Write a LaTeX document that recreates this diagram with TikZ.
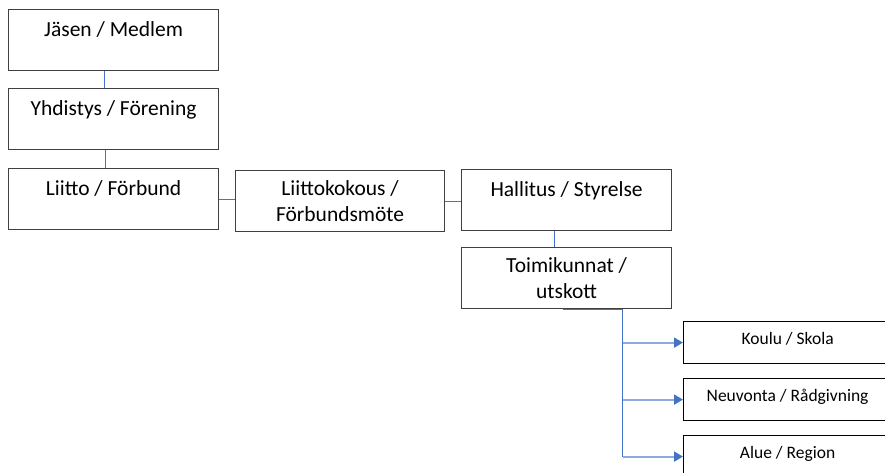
\documentclass[tikz,border=0pt]{standalone}
\usepackage{fontspec}
\setmainfont{Carlito}
\usetikzlibrary{arrows.meta}
\definecolor{lineblue}{HTML}{4472C4}
\definecolor{lightblue}{HTML}{8FAADC}
\definecolor{boxline}{HTML}{404040}
\tikzset{
  topbox/.style={draw=boxline, line width=1.2pt, fill=white, anchor=north west,
    minimum width=210pt, inner xsep=0pt, inner ysep=0pt, align=center,
    text height=27pt, text depth=34pt, font=\fontsize{21.5}{26}\selectfont},
  midbox/.style={draw=boxline, line width=1.2pt, fill=white, anchor=north west,
    minimum width=210pt, minimum height=61pt, inner sep=0pt, align=center,
    font=\fontsize{21.5}{26}\selectfont},
  smallbox/.style={draw=black, line width=1.2pt, fill=white, anchor=north west,
    minimum width=208pt, inner xsep=0pt, inner ysep=0pt, align=center,
    text height=23pt, text depth=19pt, font=\fontsize{17.5}{21}\selectfont},
  conn/.style={draw=lineblue, line width=1.2pt},
  branch/.style={draw=lightblue, line width=1.8pt,
    -{Triangle[length=9pt,width=10pt,fill=lineblue,color=lineblue]}},
}
\begin{document}
\begin{tikzpicture}[x=1pt,y=-1pt]
\useasboundingbox (0,0) rectangle (885,472);
\clip (0,0) rectangle (885,472);
\node[topbox] (jasen) at (8,9) {Jäsen / Medlem};
\node[topbox] (yhd) at (8,88) {Yhdistys / Förening};
\node[topbox] (liitto) at (8,168) {Liitto / Förbund};
\node[midbox, minimum width=209pt] (kokous) at (235,170) {Liittokokous /\\Förbundsmöte};
\node[topbox] (hall) at (461,169) {Hallitus / Styrelse};
\node[midbox] (toim) at (461,247) {Toimikunnat /\\utskott};
\node[smallbox] (koulu) at (683,321) {Koulu / Skola};
\node[smallbox] (neuv) at (683,378) {Neuvonta / Rådgivning};
\node[smallbox] (alue) at (683,435) {Alue / Region};
\draw[conn] ([xshift=-9pt]jasen.south) -- ([xshift=-9pt]yhd.north);
\draw[conn] ([xshift=-8pt]yhd.south) -- ([xshift=-8pt]liitto.north);
\draw[conn] (liitto.east) -- (liitto.east -| kokous.west);
\draw[conn] (kokous.east) -- (hall.west |- kokous.east);
\draw[conn] ([xshift=-12pt]hall.south) -- ([xshift=-12pt]toim.north);
\coordinate (fork) at ([xshift=56pt]toim.south);
\draw[conn] ([xshift=-4pt]toim.south) -- (fork) -- (fork |- alue.west);
\draw[branch] (fork |- koulu.west) -- (koulu.west);
\draw[branch] (fork |- neuv.west) -- (neuv.west);
\draw[branch] (fork |- alue.west) -- (alue.west);
\end{tikzpicture}
\end{document}
